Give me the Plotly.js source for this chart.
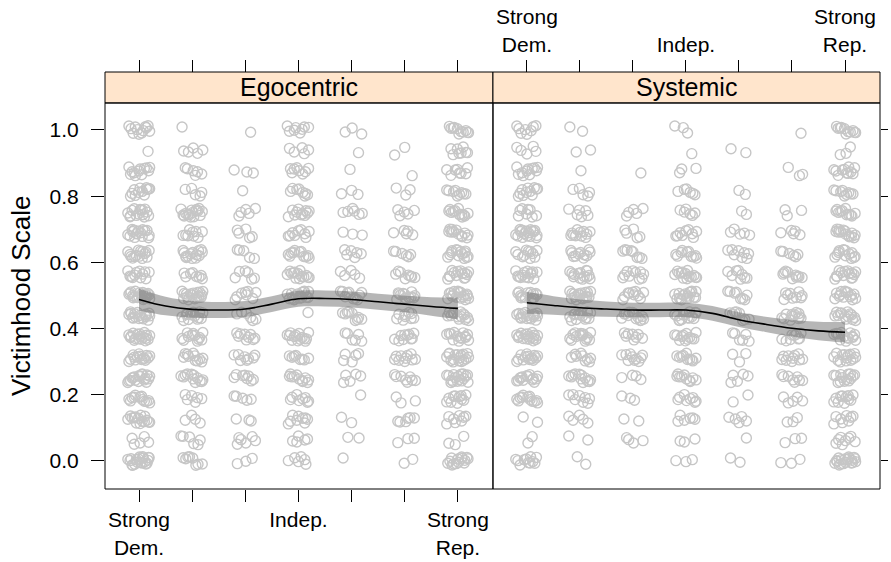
<!DOCTYPE html>
<html>
<head>
<meta charset="utf-8">
<script src="https://cdn.plot.ly/plotly-3.0.1.min.js"></script>
<style>html,body{margin:0;padding:0;background:#fff;}#chart{width:891px;height:562px;}</style>
</head>
<body>
<div id="chart"></div>
<script>
// Party identification categories (1..7)
var categories = [1, 2, 3, 4, 5, 6, 7];
var tickLabels = ["Strong<br>Dem.", "", "", "Indep.", "", "", "Strong<br>Rep."];
var panelNames = ["Egocentric", "Systemic"];
// Response levels of the victimhood scale (top to bottom)
var levels = [1, 0.9375, 0.875, 0.8125, 0.75, 0.6875, 0.625, 0.5625, 0.5, 0.4375, 0.375, 0.3125, 0.25, 0.1875, 0.125, 0.0625, 0];

// Number of respondents at each level (rows = categories, columns = levels above)
var egoCounts = [
  [12,1,12,12,15,15,15,12,20,18,18,15,18,12,15,5,20],
  [1,5,6,5,16,9,14,8,18,14,12,11,12,6,4,6,8],
  [1,0,3,1,5,5,5,6,8,6,9,8,8,5,3,6,3],
  [8,5,8,8,11,9,11,14,17,1,14,8,11,8,9,5,6],
  [3,1,1,3,6,3,6,5,10,9,6,5,5,1,2,2,1],
  [0,2,1,3,5,5,6,8,12,9,10,10,8,3,6,3,2],
  [11,8,8,9,12,12,14,14,17,14,14,17,17,11,8,3,14]
];
var sysCounts = [
  [8,5,11,11,8,17,11,14,14,17,17,14,14,12,2,2,11],
  [2,2,1,5,6,11,11,14,17,14,14,9,12,8,5,2,2],
  [0,0,1,0,5,5,8,10,10,13,8,10,4,3,2,4,0],
  [3,1,3,6,6,9,10,14,17,14,12,10,10,8,6,3,3],
  [0,2,0,2,2,5,8,8,8,8,6,3,5,2,5,1,2],
  [1,0,3,0,3,5,6,10,9,12,9,10,8,5,3,3,3],
  [11,3,11,9,11,14,12,14,14,14,14,14,14,11,8,8,19]
];

// Fixed jitter offsets (horizontal in category units, vertical in scale units)
var jitterX = [-0.15, 0.08, -0.03, 0.17, -0.11, 0.12, 0.00, -0.19, 0.05, 0.14, -0.07, 0.20, -0.16, 0.02, 0.10, -0.09,
               0.18, -0.13, 0.06, -0.01, 0.15, -0.21, 0.03, -0.05, 0.11, -0.17, 0.07, -0.08, 0.19, -0.12, 0.01, 0.13];
var jitterY = [0.004, -0.009, 0.011, -0.002, 0.007, -0.012, 0.001, 0.009, -0.006, 0.013, -0.004, 0.006, -0.010, 0.002, -0.007, 0.010, -0.001, 0.005, -0.013, 0.008, -0.005, 0.012, -0.008];

// Loess fit with standard error band
var fitX = [1, 1.5, 2, 2.5, 3, 3.5, 4, 4.5, 5, 5.5, 6, 6.5, 7];
var egoFit = [0.488, 0.468, 0.458, 0.456, 0.459, 0.474, 0.490, 0.491, 0.488, 0.481, 0.474, 0.467, 0.461];
var egoSe  = [0.033, 0.028, 0.025, 0.024, 0.024, 0.024, 0.024, 0.024, 0.024, 0.024, 0.025, 0.028, 0.033];
var sysFit = [0.478, 0.470, 0.463, 0.459, 0.456, 0.456, 0.456, 0.446, 0.427, 0.413, 0.401, 0.393, 0.389];
var sysSe  = [0.033, 0.028, 0.025, 0.023, 0.022, 0.022, 0.022, 0.022, 0.022, 0.023, 0.025, 0.028, 0.031];

function buildPoints(counts) {
  var xs = [], ys = [];
  for (var c = 0; c < categories.length; c++) {
    for (var l = 0; l < levels.length; l++) {
      var n = counts[c][l];
      var off = c * 7 + l * 3;
      for (var k = 0; k < n; k++) {
        xs.push(categories[c] + jitterX[(k + off) % jitterX.length]);
        ys.push(levels[l] + jitterY[(k * 3 + off) % jitterY.length]);
      }
    }
  }
  return {x: xs, y: ys};
}

function panelTraces(counts, fit, se, xa, ya) {
  var p = buildPoints(counts);
  var lo = fit.map(function (v, i) { return v - se[i]; });
  var hi = fit.map(function (v, i) { return v + se[i]; });
  return [
    {x: p.x, y: p.y, xaxis: xa, yaxis: ya, type: 'scatter', mode: 'markers',
     marker: {symbol: 'circle-open', size: 10, color: '#c6c6c6', line: {width: 1.4, color: '#c6c6c6'}},
     hoverinfo: 'skip', showlegend: false},
    {x: fitX, y: lo, xaxis: xa, yaxis: ya, type: 'scatter', mode: 'lines',
     line: {width: 0, shape: 'spline', color: 'rgba(0,0,0,0)'}, hoverinfo: 'skip', showlegend: false},
    {x: fitX, y: hi, xaxis: xa, yaxis: ya, type: 'scatter', mode: 'lines', fill: 'tonexty',
     fillcolor: 'rgba(110,110,110,0.5)', line: {width: 0, shape: 'spline', color: 'rgba(0,0,0,0)'},
     hoverinfo: 'skip', showlegend: false},
    {x: fitX, y: fit, xaxis: xa, yaxis: ya, type: 'scatter', mode: 'lines',
     line: {width: 1.6, shape: 'spline', color: '#000'}, hoverinfo: 'skip', showlegend: false}
  ];
}

var traces = panelTraces(egoCounts, egoFit, egoSe, 'x', 'y')
  .concat(panelTraces(sysCounts, sysFit, sysSe, 'x2', 'y2'));
// invisible carriers so the top axes are drawn
traces.push({x: [categories[0]], y: [null], xaxis: 'x3', yaxis: 'y', type: 'scatter', mode: 'markers',
  marker: {opacity: 0}, hoverinfo: 'skip', showlegend: false});
traces.push({x: [categories[0]], y: [null], xaxis: 'x4', yaxis: 'y2', type: 'scatter', mode: 'markers',
  marker: {opacity: 0}, hoverinfo: 'skip', showlegend: false});

var fam = 'Liberation Sans, Arial, Helvetica, sans-serif';
var font = {family: fam, size: 21, color: '#000'};
var xRange = [0.36, 7.66];
var yRange = [-0.0846, 1.0816];
var yTop = 0.9257;
var split = 0.5006;

function xAxis(domain, extra) {
  var a = {domain: domain, range: xRange, tickmode: 'array', tickvals: categories, ticktext: tickLabels,
    ticks: 'outside', ticklen: 12, tickwidth: 1, tickcolor: '#000', showgrid: false, zeroline: false,
    showline: false, tickfont: font, fixedrange: true};
  for (var k in extra) a[k] = extra[k];
  return a;
}

var layout = {
  width: 891, height: 562,
  margin: {l: 105, r: 11, t: 72, b: 73},
  paper_bgcolor: '#fff', plot_bgcolor: '#fff',
  font: font,
  showlegend: false,
  xaxis: xAxis([0, split], {anchor: 'y'}),
  xaxis2: xAxis([split, 1], {anchor: 'y2', ticks: '', showticklabels: false}),
  xaxis3: xAxis([0, split], {overlaying: 'x', side: 'top', anchor: 'free', position: 1, showticklabels: false}),
  xaxis4: xAxis([split, 1], {overlaying: 'x2', side: 'top', anchor: 'free', position: 1}),
  yaxis: {domain: [0, yTop], range: yRange, anchor: 'x', tickvals: [0, 0.2, 0.4, 0.6, 0.8, 1.0],
    ticktext: ['0.0', '0.2', '0.4', '0.6', '0.8', '1.0'], ticks: 'outside', ticklen: 13, tickwidth: 1,
    tickcolor: '#000', showgrid: false, zeroline: false, showline: false, tickfont: font,
    ticklabelstandoff: 8, fixedrange: true},
  yaxis2: {domain: [0, yTop], range: yRange, anchor: 'x2', side: 'right', tickvals: [0, 0.2, 0.4, 0.6, 0.8, 1.0],
    ticks: 'outside', ticklen: 7, tickwidth: 1, tickcolor: '#000', showticklabels: false,
    showgrid: false, zeroline: false, showline: false, fixedrange: true},
  shapes: [
    {type: 'rect', xref: 'paper', yref: 'paper', x0: 0, x1: split, y0: yTop, y1: 1,
     fillcolor: '#ffe5cc', line: {color: '#000', width: 1}, layer: 'below'},
    {type: 'rect', xref: 'paper', yref: 'paper', x0: split, x1: 1, y0: yTop, y1: 1,
     fillcolor: '#ffe5cc', line: {color: '#000', width: 1}, layer: 'below'},
    {type: 'rect', xref: 'paper', yref: 'paper', x0: 0, x1: split, y0: 0, y1: yTop,
     fillcolor: 'rgba(0,0,0,0)', line: {color: '#000', width: 1}},
    {type: 'rect', xref: 'paper', yref: 'paper', x0: split, x1: 1, y0: 0, y1: yTop,
     fillcolor: 'rgba(0,0,0,0)', line: {color: '#000', width: 1}}
  ],
  annotations: [
    {text: panelNames[0], xref: 'paper', yref: 'paper', x: split / 2, y: (yTop + 1) / 2,
     xanchor: 'center', yanchor: 'middle', showarrow: false, font: {family: fam, size: 25, color: '#000'}},
    {text: panelNames[1], xref: 'paper', yref: 'paper', x: (split + 1) / 2, y: (yTop + 1) / 2,
     xanchor: 'center', yanchor: 'middle', showarrow: false, font: {family: fam, size: 25, color: '#000'}},
    {text: 'Victimhood Scale', xref: 'paper', yref: 'paper', x: -84 / 775, y: (489 - 296) / 417,
     xanchor: 'center', yanchor: 'middle', textangle: -90, showarrow: false,
     font: {family: fam, size: 26, color: '#000'}}
  ]
};

Plotly.newPlot('chart', traces, layout, {displayModeBar: false, staticPlot: true});
</script>
</body>
</html>
